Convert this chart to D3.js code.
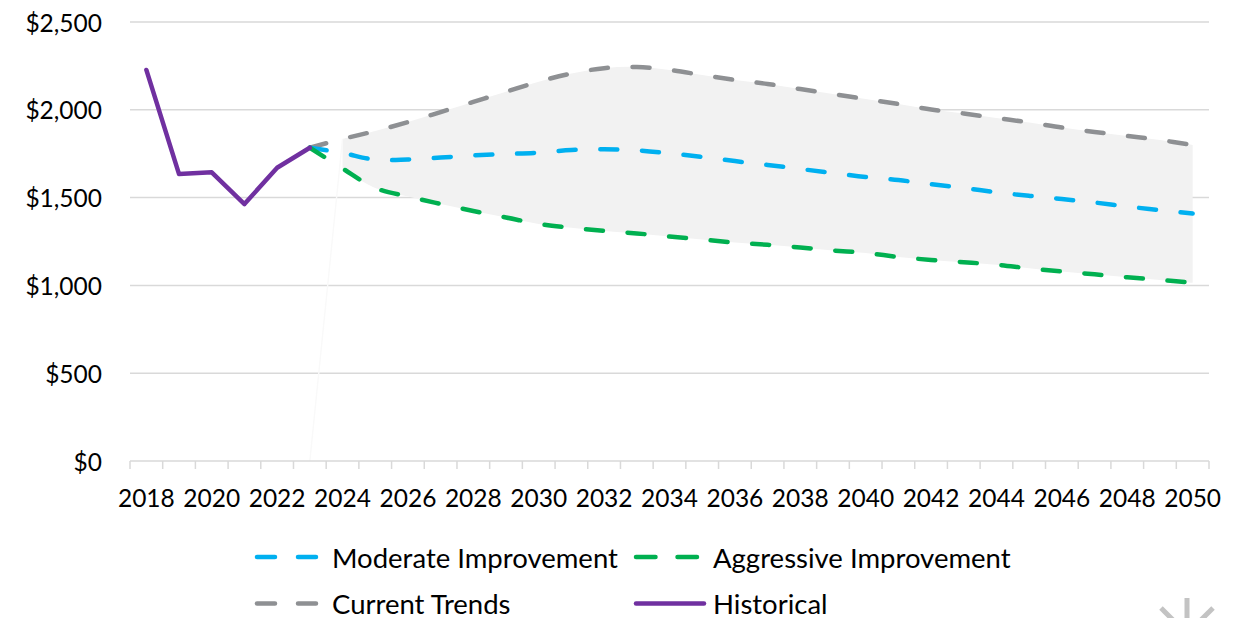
<!DOCTYPE html>
<html><head><meta charset="utf-8">
<script src="https://cdn.jsdelivr.net/npm/d3@7"></script>
<style>html,body{margin:0;padding:0;background:#fff;overflow:hidden} svg{display:block;font-family:Lato,"Open Sans",sans-serif;}</style>
</head><body><svg id="chart" width="1240" height="618"></svg>
<script>
// ---- data ----
const years = d3.range(2018, 2051);
const tickLabels = ["2018","2020","2022","2024","2026","2028","2030","2032","2034","2036","2038","2040","2042","2044","2046","2048","2050"];
const yTicks = [0, 500, 1000, 1500, 2000, 2500];
const historicalYears = [2018, 2019, 2020, 2021, 2022, 2023];
const historical = [2227, 1634, 1644, 1463, 1670, 1784];
const forecastYears = d3.range(2023, 2051);
const currentTrends = [1784,1834,1879,1930,1987,2045,2103,2160,2207,2237,2244,2227,2198,2170,2147,2118,2090,2061,2033,2002,1979,1953,1928,1899,1874,1851,1828,1800];
const moderate = [1784,1754,1716,1717,1728,1740,1748,1756,1771,1775,1769,1752,1731,1708,1686,1663,1640,1617,1600,1576,1555,1530,1510,1492,1472,1449,1429,1409];
const aggressive = [1784,1666,1555,1506,1464,1424,1387,1350,1328,1310,1296,1278,1261,1244,1231,1216,1199,1185,1162,1145,1132,1118,1097,1079,1063,1046,1031,1015];
const seriesNames = ["Moderate Improvement", "Aggressive Improvement", "Current Trends", "Historical"];
const seriesColors = ["#00B0F0", "#00B050", "#8E9093", "#7030A0"];

// ---- layout ----
const svg = d3.select("#chart");
const plotLeft = 130, plotRight = 1209, plotTop = 22, plotBottom = 461;
const x = d3.scaleBand().domain(years).range([plotLeft, plotRight]).padding(0);
const cx = yr => x(yr) + x.bandwidth() / 2;
const y = d3.scaleLinear().domain([0, 2500]).range([plotBottom, plotTop]);
const fontSize = 24.5;
const legendFontSize = 27.5;

// gridlines
svg.append("g").selectAll("line").data(yTicks.filter(d => d > 0)).join("line")
  .attr("x1", plotLeft).attr("x2", plotRight)
  .attr("y1", d => y(d)).attr("y2", d => y(d))
  .attr("stroke", "#d9d9d9").attr("stroke-width", 1.5);

// y labels
svg.append("g").selectAll("text").data(yTicks).join("text")
  .attr("x", 102).attr("y", d => y(d))
  .attr("text-anchor", "end").attr("dominant-baseline", "central")
  .attr("font-size", fontSize).attr("fill", "#000")
  .text(d => "$" + d3.format(",")(d));

// band
const bandIdx = d3.range(1, forecastYears.length);
const curve = d3.curveCatmullRom.alpha(0.5);
svg.append("path")
  .attr("d", d3.area().curve(curve)
    .x(i => cx(forecastYears[i]))
    .y0(i => y(aggressive[i]))
    .y1(i => y(currentTrends[i]))(bandIdx))
  .attr("fill", "#f2f2f2");

// faint edge line of the band
svg.append("line")
  .attr("x1", cx(2023)).attr("y1", y(0))
  .attr("x2", cx(2024)).attr("y2", y(currentTrends[1]))
  .attr("stroke", "#f9f9f9").attr("stroke-width", 1.4);

// x axis
const axisG = svg.append("g").attr("transform", `translate(0,${plotBottom})`);
axisG.append("line").attr("x1", plotLeft).attr("x2", plotRight).attr("stroke", "#d9d9d9").attr("stroke-width", 1.5);
axisG.selectAll("line.tick").data(years.concat([2051])).join("line").attr("class", "tick")
  .attr("x1", d => d === 2051 ? plotRight : x(d)).attr("x2", d => d === 2051 ? plotRight : x(d))
  .attr("y1", 0).attr("y2", 8).attr("stroke", "#d9d9d9").attr("stroke-width", 1.5);
axisG.selectAll("text").data(tickLabels).join("text")
  .attr("x", d => cx(+d)).attr("y", 36)
  .attr("text-anchor", "middle").attr("dominant-baseline", "central")
  .attr("font-size", fontSize).attr("fill", "#000").text(d => d);

// lines
const dash = "17,24.7";
const line = d3.line().curve(curve);
function drawForecast(vals, color) {
  svg.append("path")
    .attr("d", line(forecastYears.map((yr, i) => [cx(yr), y(vals[i])])))
    .attr("fill", "none").attr("stroke", color).attr("stroke-width", 4.5)
    .attr("stroke-dasharray", dash).attr("stroke-linecap", "round");
}
drawForecast(currentTrends, seriesColors[2]);
drawForecast(moderate, seriesColors[0]);
drawForecast(aggressive, seriesColors[1]);
svg.append("path")
  .attr("d", d3.line()(historicalYears.map((yr, i) => [cx(yr), y(historical[i])])))
  .attr("fill", "none").attr("stroke", seriesColors[3]).attr("stroke-width", 4.5)
  .attr("stroke-linejoin", "round").attr("stroke-linecap", "round");

// legend
const legendItems = [
  {name: seriesNames[0], color: seriesColors[0], x1: 257, x2: 316, dash: "18,23", tx: 332, ty: 557},
  {name: seriesNames[1], color: seriesColors[1], x1: 636, x2: 699, dash: "19.5,22", tx: 713, ty: 557},
  {name: seriesNames[2], color: seriesColors[2], x1: 257, x2: 316, dash: "18,23", tx: 332, ty: 603.5},
  {name: seriesNames[3], color: seriesColors[3], x1: 636, x2: 704, dash: null, tx: 713, ty: 603.5}
];
const lg = svg.append("g").selectAll("g").data(legendItems).join("g");
lg.append("line")
  .attr("x1", d => d.x1).attr("x2", d => d.x2).attr("y1", d => d.ty).attr("y2", d => d.ty)
  .attr("stroke", d => d.color).attr("stroke-width", 4.5).attr("stroke-linecap", "round")
  .attr("stroke-dasharray", d => d.dash);
lg.append("text")
  .attr("x", d => d.tx).attr("y", d => d.ty).attr("dominant-baseline", "central")
  .attr("font-size", legendFontSize).attr("fill", "#000").text(d => d.name);

// partial icon at bottom right
const icon = svg.append("g").attr("stroke", "#c3c3c3").attr("stroke-width", 5);
icon.append("line").attr("x1", 1187).attr("y1", 598).attr("x2", 1187).attr("y2", 622);
icon.append("line").attr("x1", 1161).attr("y1", 608).attr("x2", 1175).attr("y2", 622);
icon.append("line").attr("x1", 1213).attr("y1", 608).attr("x2", 1199).attr("y2", 622);
</script></body></html>
